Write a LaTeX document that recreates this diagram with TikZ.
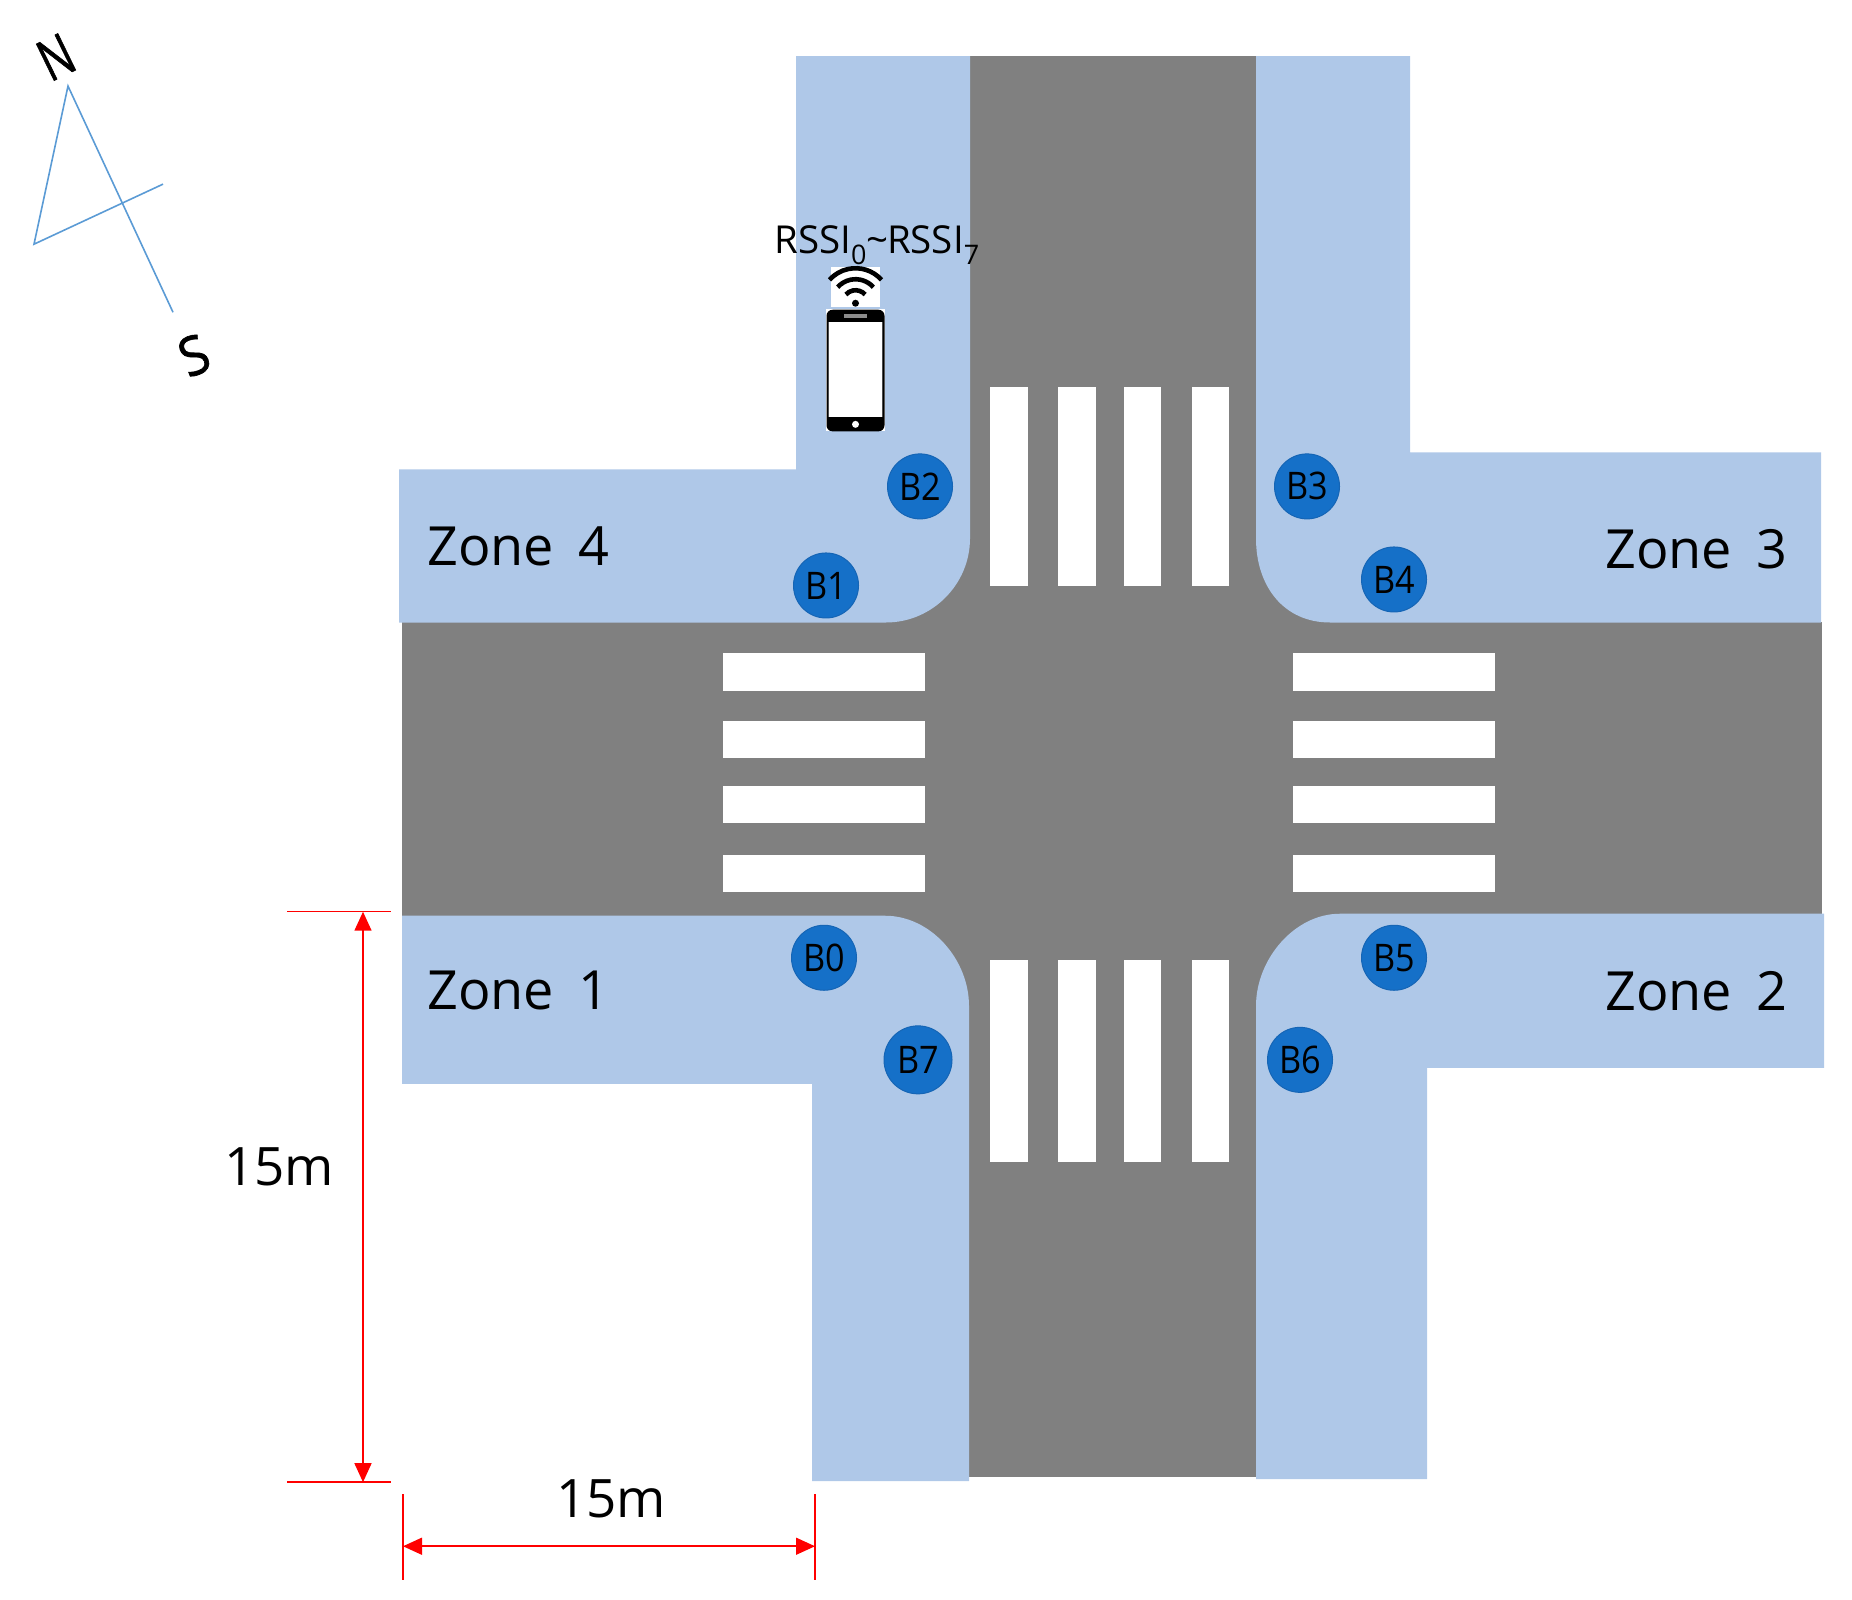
\documentclass[tikz,border=0pt]{standalone}
\usepackage{fontspec}
\setmainfont{Open Sans}
\newfontfamily\handfont[FakeBold=1.2]{Open Sans}
\usetikzlibrary{arrows.meta}
\definecolor{road}{HTML}{808080}
\definecolor{walk}{HTML}{AFC8E8}
\definecolor{beacon}{HTML}{1570C8}
\definecolor{beaconedge}{HTML}{1565B5}
\definecolor{compass}{HTML}{5B9BD5}
\newcommand{\fs}[1]{\fontsize{#1}{#1}\selectfont}
\newcommand{\zn}[1]{Zone\kern10pt\ #1}
\tikzset{
  x=1pt,y=-1.0008pt,
  roadfill/.style={fill=road,draw=none},
  walkfill/.style={fill=walk,draw=none},
  stripe/.style={fill=white,draw=none},
  beaconnode/.style={circle,fill=beacon,draw=beaconedge,line width=1pt,minimum size=65pt,inner sep=0pt,font=\fs{38}},
  zonelabel/.style={font=\fs{54},text=black,inner sep=0pt},
  dimlabel/.style={font=\fs{53},text=black,inner sep=0pt},
  dimarrow/.style={red,line width=1.5pt,{Triangle[length=19pt,width=17pt]}-{Triangle[length=19pt,width=17pt]}},
  dimtick/.style={red,line width=1.5pt},
  compassline/.style={compass,line width=1.6pt,line join=miter},
  handletter/.style={font=\fs{60}\handfont,inner sep=0pt,text=black},
}
\begin{document}
\begin{tikzpicture}
\useasboundingbox (0,0) rectangle (1852,1598.72);
% roads
\fill[roadfill] (402,621) rectangle (1822,915);
\fill[roadfill] (968,56) rectangle (1258,1476);
\fill[roadfill] (880,530) rectangle (1345,1010);
% sidewalks
\fill[walkfill] (399,469) -- (796,469) -- (796,56) -- (970,56) -- (970,538)
  .. controls (970,584) and (932,622) .. (886,622) -- (399,622) -- cycle;
\fill[walkfill] (1256,56) -- (1410,56) -- (1410,452) -- (1821,452) -- (1821,622) -- (1330,622)
  .. controls (1284,622) and (1256,586) .. (1256,538) -- cycle;
\fill[walkfill] (402,915) -- (885,915) .. controls (931,915) and (969,959) .. (969,1005)
  -- (969,1480) -- (812,1480) -- (812,1083) -- (402,1083) -- cycle;
\fill[walkfill] (1256,1005) .. controls (1256,959) and (1294,913) .. (1340,913)
  -- (1824,913) -- (1824,1067) -- (1427,1067) -- (1427,1478) -- (1256,1478) -- cycle;
% crossings
\foreach \a/\b in {990/1028,1058/1096,1124/1161,1192/1229}{
  \fill[stripe] (\a,387) rectangle (\b,586);
  \fill[stripe] (\a,959) rectangle (\b,1161);
}
\foreach \a/\b in {652/690,720/757,785/822,854/891}{
  \fill[stripe] (723,\a) rectangle (925,\b);
  \fill[stripe] (1293,\a) rectangle (1495,\b);
}
% beacons
\node[beaconnode] (b0) at (824,957) {\scalebox{.9}[1]{B0}};
\node[beaconnode] (b1) at (826,585) {\scalebox{.9}[1]{B1}};
\node[beaconnode] (b2) at (920,486) {\scalebox{.9}[1]{B2}};
\node[beaconnode] (b3) at (1307,486) {\scalebox{.9}[1]{B3}};
\node[beaconnode] (b4) at (1394,579) {\scalebox{.9}[1]{B4}};
\node[beaconnode] (b5) at (1394,957) {\scalebox{.9}[1]{B5}};
\node[beaconnode] (b6) at (1300,1059) {\scalebox{.9}[1]{B6}};
\node[beaconnode,minimum size=68pt] (b7) at (918,1059) {\scalebox{.9}[1]{B7}};
% zone labels
\node[zonelabel,anchor=west] (z4) at (427,546) {\zn{4}};
\node[zonelabel,anchor=west] (z3) at (1605,549) {\zn{3}};
\node[zonelabel,anchor=west] (z1) at (427,990) {\zn{1}};
\node[zonelabel,anchor=west] (z2) at (1605,990) {\zn{2}};
% phone
\node[inner sep=0pt,font=\fs{38.5}] (rssi) at (877,245) {RSSI\textsubscript{0}\kern-1pt\textasciitilde\kern-1pt RSSI\textsubscript{7}};
\fill[white] (831,267) rectangle (880,307);
\coordinate (wc) at (855.5,303);
\fill[black] (wc) circle[radius=3.5pt];
\foreach \r in {13,24,35}{
  \draw[black,line width=4.6pt] (wc) ++(42:\r pt) arc[start angle=42,end angle=138,radius=\r pt];
}
\fill[white] (826,309) rectangle (885,431);
\fill[black,rounded corners=6pt] (826.5,309.5) rectangle (884.5,431);
\fill[white] (829,322) rectangle (882,417);
\draw[black!70,line width=1pt] (828.5,322) -- (828.5,417) (882.5,322) -- (882.5,417);
\fill[black!45] (844,314) rectangle (867,318);
\fill[white] (855.5,424) circle[radius=3.5pt];
% compass
\coordinate (apex) at (68,86);
\coordinate (south) at (173,312);
\coordinate (left) at (34,244);
\coordinate (arm) at (163,184);
\draw[compassline] (south) -- (apex) -- (left) -- (arm);
\node[handletter,rotate=26] (n) at (56,57) {\scalebox{.72}[.95]{N}};
\node[handletter,rotate=22] (s) at (194,355) {\scalebox{.85}[.9]{S}};
% dimensions
\coordinate (d1a) at (287,911); \coordinate (d1b) at (391,911);
\coordinate (d2a) at (287,1481); \coordinate (d2b) at (391,1481);
\coordinate (v1) at (363,911); \coordinate (v2) at (363,1481);
\draw[dimtick] (d1a) -- (d1b);
\draw[dimtick] (d2a) -- (d2b);
\draw[dimarrow] (v1) -- (v2);
\coordinate (t1a) at (403,1493); \coordinate (t1b) at (403,1579);
\coordinate (t2a) at (815,1493); \coordinate (t2b) at (815,1579);
\coordinate (h1) at (403,1545); \coordinate (h2) at (815,1545);
\draw[dimtick] (t1a) -- (t1b);
\draw[dimtick] (t2a) -- (t2b);
\draw[dimarrow] (h1) -- (h2);
\node[dimlabel] (lv) at (279,1166) {15m};
\node[dimlabel] (lh) at (611,1498) {15m};
\end{tikzpicture}
\end{document}
